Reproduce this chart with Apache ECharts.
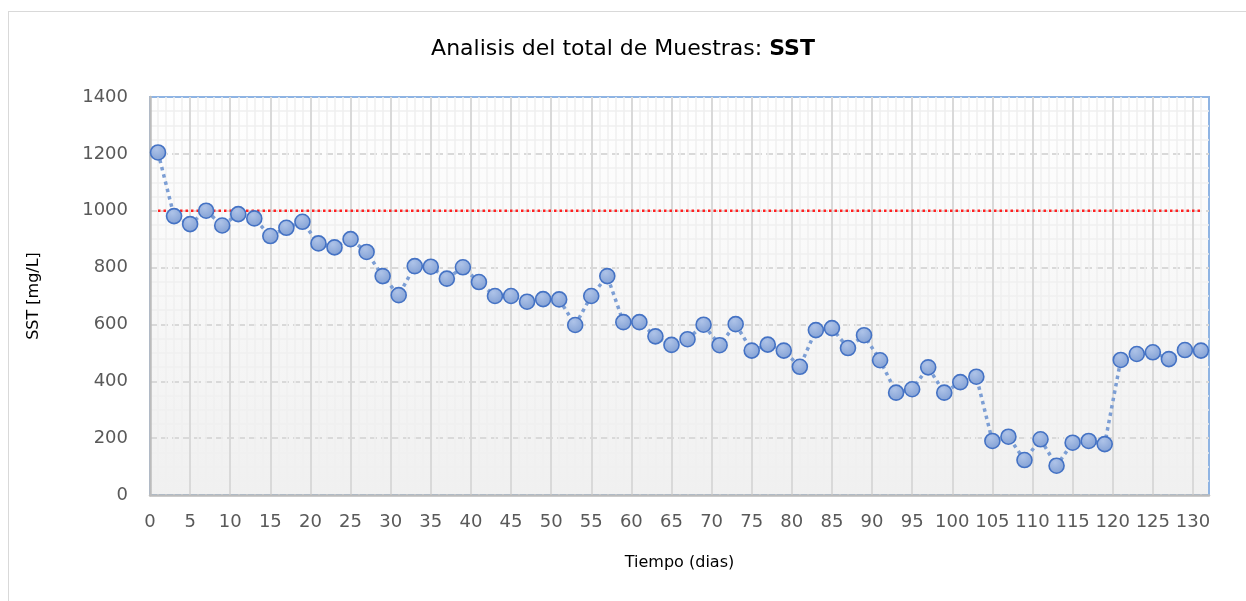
<!DOCTYPE html>
<html>
<head>
<meta charset="utf-8">
<script src="https://cdn.jsdelivr.net/npm/echarts@6/dist/echarts.min.js"></script>
<style>
    html, body {
        margin: 0;
        padding: 0;
        background: #fff;
        overflow: hidden;
    }
    .frame {
        position: absolute;
        left: 8px;
        top: 11px;
        width: 1250px;
        height: 600px;
        border: 1px solid #d9d9d9;
        box-sizing: border-box;
    }
    #chart {
        position: absolute;
        left: 0;
        top: 0;
        width: 1246px;
        height: 601px;
    }
</style>
</head>
<body>
<div class="frame"></div>
<div id="chart"></div>
<script>
// dias de muestreo (cada 2 dias)
const dias = [1, 3, 5, 7, 9, 11, 13, 15, 17, 19, 21, 23, 25, 27, 29, 31, 33, 35, 37, 39,
    41, 43, 45, 47, 49, 51, 53, 55, 57, 59, 61, 63, 65, 67, 69, 71, 73, 75, 77, 79,
    81, 83, 85, 87, 89, 91, 93, 95, 97, 99, 101, 103, 105, 107, 109, 111, 113, 115, 117, 119,
    121, 123, 125, 127, 129, 131]
// SST [mg/L]
const sst = [1205, 981, 953, 1000, 948, 988, 973, 911, 940, 961, 885, 871, 900, 855, 770, 703, 805, 803, 761, 801,
    749, 700, 700, 680, 689, 688, 598, 700, 770, 608, 608, 558, 528, 548, 599, 527, 601, 508, 529, 508,
    451, 580, 587, 517, 562, 474, 360, 372, 449, 360, 397, 416, 190, 205, 123, 196, 103, 184, 190, 179,
    475, 496, 502, 478, 510, 508]
// limite 1000 mg/L
const limite = dias.map(() => 1000)

const chart = echarts.init(document.getElementById('chart'))
const font = 'DejaVu Sans'

chart.setOption({
    animation: false,
    textStyle: { fontFamily: font },
    title: {
        text: '{n|Analisis del total de Muestras: }{b|SST}',
        left: 'center',
        top: 33,
        textStyle: {
            rich: {
                n: { fontFamily: font, fontSize: 22, color: '#000', fontWeight: 'normal' },
                b: { fontFamily: font, fontSize: 22, color: '#000', fontWeight: 'bold' }
            }
        }
    },
    grid: {
        left: 150,
        top: 97,
        right: 37,
        bottom: 106,
        show: true,
        borderColor: '#8fb4e3',
        borderWidth: 2,
        z: 0,
        backgroundColor: {
            type: 'linear', x: 0, y: 0, x2: 0, y2: 1,
            colorStops: [
                { offset: 0, color: '#ffffff' },
                { offset: 1, color: '#f0f0f0' }
            ]
        }
    },
    xAxis: {
        type: 'value',
        min: 0,
        max: 132,
        interval: 5,
        z: 2,
        name: 'Tiempo (dias)',
        nameLocation: 'middle',
        nameGap: 60,
        nameTextStyle: { fontSize: 16, color: '#000', fontFamily: font },
        axisLine: { show: true, onZero: false, lineStyle: { color: '#bcbcbc', width: 2.5 } },
        axisTick: { show: false },
        axisLabel: { fontSize: 18, color: '#595959', margin: 18, showMaxLabel: false, fontFamily: font },
        splitLine: { show: true, showMinLine: false, showMaxLine: false, lineStyle: { color: '#d9d9d9', width: 2 } },
        minorTick: { show: false, splitNumber: 5 },
        minorSplitLine: { show: true, lineStyle: { color: '#efefef', width: 1.5 } }
    },
    yAxis: {
        type: 'value',
        min: 0,
        max: 1400,
        interval: 200,
        z: 2,
        name: 'SST [mg/L]',
        nameLocation: 'middle',
        nameGap: 108,
        nameTextStyle: { fontSize: 16, color: '#000', fontFamily: font },
        axisLine: { show: true, onZero: false, lineStyle: { color: '#bcbcbc', width: 2.5 } },
        axisTick: { show: false },
        axisLabel: { fontSize: 18, color: '#595959', margin: 22, fontFamily: font, formatter: v => String(v) },
        splitLine: { show: true, showMinLine: false, showMaxLine: false, lineStyle: { color: '#d9d9d9', width: 2, type: [7, 4] } },
        minorTick: { show: false, splitNumber: 4 },
        minorSplitLine: { show: true, lineStyle: { color: '#efefef', width: 1.5 } }
    },
    series: [
        {
            name: 'Limite',
            type: 'line',
            data: dias.map((d, i) => [d, limite[i]]),
            symbol: 'none',
            lineStyle: { color: '#ff2020', width: 2.5, type: [2.5, 3] },
            z: 3
        },
        {
            name: 'SST',
            type: 'line',
            data: dias.map((d, i) => [d, sst[i]]),
            symbol: 'circle',
            symbolSize: 15,
            lineStyle: { color: '#7c9ed4', width: 3.5, type: [3.5, 4] },
            itemStyle: {
                color: {
                    type: 'radial', x: 0.4, y: 0.3, r: 0.8,
                    colorStops: [
                        { offset: 0, color: '#aec3e8' },
                        { offset: 1, color: '#7d9cd2' }
                    ]
                },
                borderColor: '#4472c4',
                borderWidth: 1.6
            },
            z: 4
        }
    ]
})
</script>
</body>
</html>
